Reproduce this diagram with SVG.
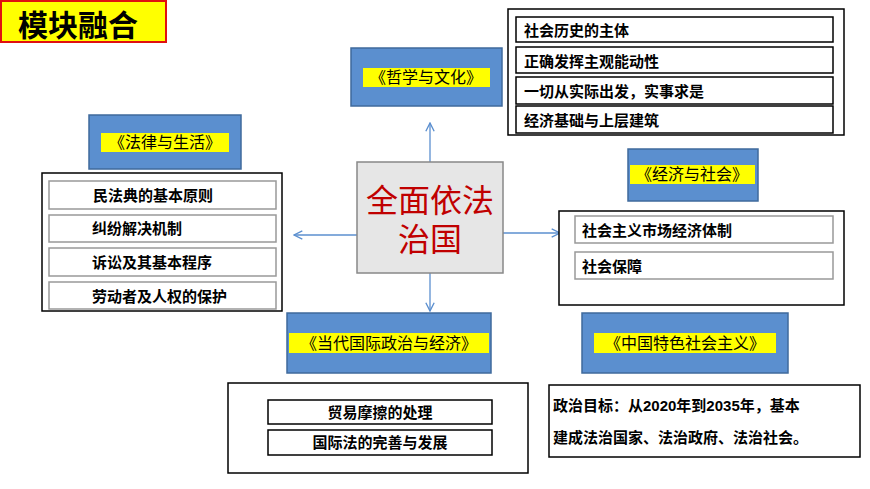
<svg xmlns="http://www.w3.org/2000/svg" width="870" height="489" viewBox="0 0 870 489">
<defs>
<style>
text{font-family:"Liberation Sans","Noto Sans CJK SC",sans-serif;font-weight:bold;fill:#000}
.blue{fill:#5b8fcf;stroke:#3f6a9c;stroke-width:1.5}
.yel{fill:#ffff00}
.mod{font-weight:normal;font-size:16px;text-anchor:middle}
.out{fill:#fff;stroke:#000;stroke-width:1.5}
.it{fill:#fff;stroke:#999;stroke-width:1.5}
.itb{fill:#fff;stroke:#000;stroke-width:1.5}
.t{font-size:15px}
.ln{stroke:#5b8fcf;stroke-width:1.3;fill:none}
</style>
<marker id="ar" viewBox="0 0 10 10" refX="9" refY="5" markerWidth="8" markerHeight="8" orient="auto"><path d="M1 1L9 5L1 9" fill="none" stroke="#5b8fcf" stroke-width="1.3"/></marker>
</defs>
<rect width="870" height="489" fill="#fff"/>
<g id="title"><rect x="1" y="1" width="165" height="41" fill="#ffff00" stroke="#e01010" stroke-width="2"/><text x="18" y="36" font-size="30">模块融合</text></g>
<g id="connectors">
<line class="ln" x1="430" y1="162" x2="430" y2="123" marker-end="url(#ar)"/>
<line class="ln" x1="357" y1="235" x2="294" y2="235" marker-end="url(#ar)"/>
<line class="ln" x1="503" y1="233" x2="560" y2="233" marker-end="url(#ar)"/>
<line class="ln" x1="430" y1="273" x2="430" y2="311" marker-end="url(#ar)"/>
</g>
<g id="center"><rect x="357" y="162" width="146" height="111" fill="#e6e6e6" stroke="#888" stroke-width="1.5"/>
<text x="430" y="212" font-size="32" text-anchor="middle" style="fill:#c00000;font-weight:normal">全面依法</text>
<text x="430" y="251" font-size="32" text-anchor="middle" style="fill:#c00000;font-weight:normal">治国</text></g>
<g id="zhexue"><rect class="blue" x="351" y="48" width="151" height="58"/><rect class="yel" x="363" y="68" width="127" height="19"/><text class="mod" x="426" y="83">《哲学与文化》</text></g>
<g id="falv"><rect class="blue" x="89" y="115" width="152" height="54"/><rect class="yel" x="101" y="133" width="128" height="19"/><text class="mod" x="165" y="148">《法律与生活》</text></g>
<g id="jingji"><rect class="blue" x="628" y="149" width="130" height="52"/><rect class="yel" x="630" y="165" width="125" height="19"/><text class="mod" x="692" y="180">《经济与社会》</text></g>
<g id="dangdai"><rect class="blue" x="287" y="313" width="204" height="60"/><rect class="yel" x="289" y="333" width="200" height="20"/><text class="mod" x="389" y="349">《当代国际政治与经济》</text></g>
<g id="zhongguo"><rect class="blue" x="582" y="313" width="206" height="60"/><rect class="yel" x="594" y="333" width="182" height="20"/><text class="mod" x="685" y="349">《中国特色社会主义》</text></g>
<g id="left-list"><rect class="out" x="42" y="173" width="240" height="138"/>
<rect class="it" x="49" y="181" width="227" height="28"/><text class="t" x="93" y="201">民法典的基本原则</text>
<rect class="it" x="49" y="215" width="227" height="27"/><text class="t" x="92" y="234">纠纷解决机制</text>
<rect class="it" x="49" y="248" width="227" height="28"/><text class="t" x="92" y="268">诉讼及其基本程序</text>
<rect class="it" x="49" y="282" width="227" height="27"/><text class="t" x="92" y="302">劳动者及人权的保护</text></g>
<g id="top-list"><rect class="out" x="508" y="9" width="336" height="126"/>
<rect class="itb" x="516" y="17" width="317" height="25"/><text class="t" x="524" y="36">社会历史的主体</text>
<rect class="itb" x="516" y="47" width="317" height="26"/><text class="t" x="524" y="67">正确发挥主观能动性</text>
<rect class="itb" x="516" y="77" width="317" height="27"/><text class="t" x="524" y="97">一切从实际出发，实事求是</text>
<rect class="itb" x="516" y="106" width="317" height="27"/><text class="t" x="524" y="126">经济基础与上层建筑</text></g>
<g id="right-list"><rect class="out" x="559" y="211" width="285" height="94"/>
<rect class="it" x="575" y="216" width="258" height="27"/><text class="t" x="582" y="236">社会主义市场经济体制</text>
<rect class="it" x="575" y="252" width="258" height="27"/><text class="t" x="582" y="272">社会保障</text></g>
<g id="bottom-list"><rect class="out" x="228" y="383" width="300" height="90"/>
<rect class="itb" x="268" y="400" width="224" height="24"/><text class="t" x="380" y="418" text-anchor="middle">贸易摩擦的处理</text>
<rect class="itb" x="268" y="430" width="224" height="25"/><text class="t" x="380" y="448" text-anchor="middle">国际法的完善与发展</text></g>
<g id="goal"><rect class="out" x="549" y="385" width="311" height="72"/>
<text class="t" x="553" y="411">政治目标：从2020年到2035年，基本</text>
<text class="t" x="553" y="443">建成法治国家、法治政府、法治社会。</text></g>
</svg>
